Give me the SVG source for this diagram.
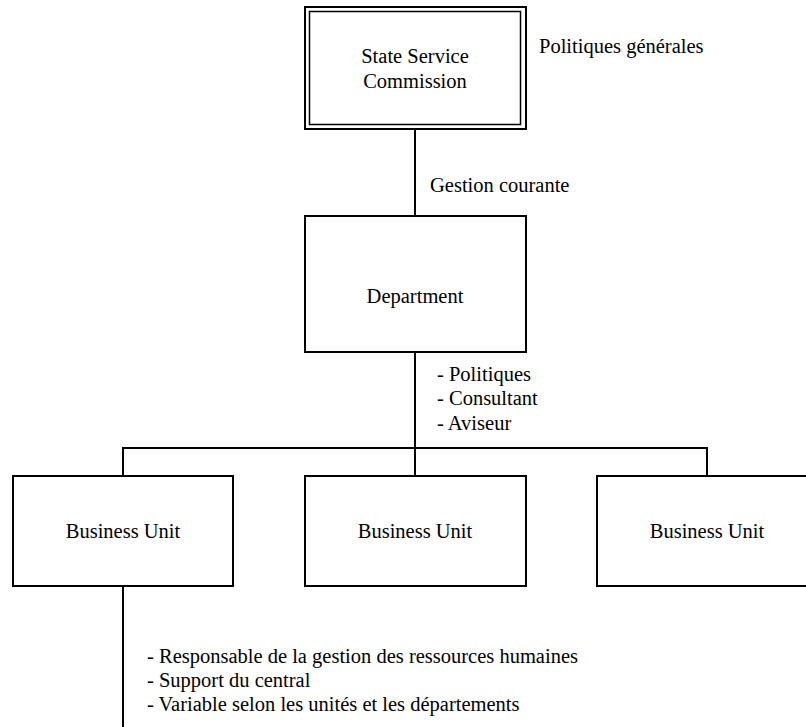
<svg xmlns="http://www.w3.org/2000/svg" width="806" height="727" viewBox="0 0 806 727">
<style>
.box{fill:#fff;stroke:#000;stroke-width:2}
.thin{fill:none;stroke:#000;stroke-width:1.5}
.ln{fill:none;stroke:#000;stroke-width:2}
text{font-family:"Liberation Serif","Times New Roman",serif;font-size:20.5px;fill:#000}
.c{text-anchor:middle}
</style>
<rect width="806" height="727" fill="#fff"/>
<g id="connectors">
<line class="ln" x1="415" y1="129" x2="415" y2="216"/>
<line class="ln" x1="415" y1="352" x2="415" y2="448"/>
<polyline class="ln" points="123,476 123,448 707,448 707,476"/>
<line class="ln" x1="415" y1="448" x2="415" y2="476"/>
<line class="ln" x1="123" y1="586" x2="123" y2="727"/>
</g>
<g id="ssc">
<rect class="box" x="305" y="7" width="221" height="122"/>
<rect class="thin" x="309.5" y="11.5" width="211" height="113"/>
<text class="c" x="415" y="63">State Service</text>
<text class="c" x="415" y="88">Commission</text>
</g>
<text x="539" y="53">Politiques générales</text>
<text x="430" y="192">Gestion courante</text>
<g id="department">
<rect class="box" x="305" y="216" width="221" height="136"/>
<text class="c" x="415" y="303">Department</text>
</g>
<text x="437" y="381">- Politiques</text>
<text x="437" y="405">- Consultant</text>
<text x="437" y="430">- Aviseur</text>
<g id="bu1">
<rect class="box" x="13" y="476" width="220" height="110"/>
<text class="c" x="123" y="538">Business Unit</text>
</g>
<g id="bu2">
<rect class="box" x="305" y="476" width="221" height="110"/>
<text class="c" x="415" y="538">Business Unit</text>
</g>
<g id="bu3">
<rect class="box" x="597" y="476" width="220" height="110"/>
<text class="c" x="707" y="538">Business Unit</text>
</g>
<text x="147" y="663">- Responsable de la gestion des ressources humaines</text>
<text x="147" y="687">- Support du central</text>
<text x="147" y="711">- Variable selon les unités et les départements</text>
</svg>
